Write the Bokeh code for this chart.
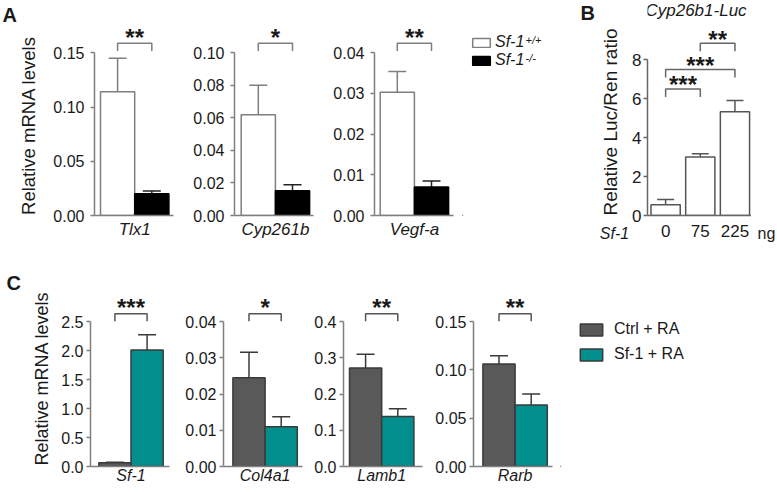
import math
from bokeh.plotting import figure
from bokeh.models import (Range1d, FixedTicker, Whisker, TeeHead, ColumnDataSource,
                          Legend, LegendItem, NumeralTickFormatter)
from bokeh.layouts import row, column
from bokeh.embed import file_html
from bokeh.resources import INLINE
from bokeh.core.properties import value

FONT = "Liberation Sans"

# ---------------- data ----------------
# Panel A: relative mRNA levels, Sf-1+/+ vs Sf-1-/-
a_genes = ["Tlx1", "Cyp261b", "Vegf-a"]
a_wt = [0.114, 0.062, 0.0303]
a_wt_sem = [0.031, 0.018, 0.0051]
a_ko = [0.0200, 0.0152, 0.0070]
a_ko_sem = [0.0027, 0.0037, 0.0015]
a_sig = ["**", "*", "**"]
a_ticks = [[0.0, 0.05, 0.10, 0.15],
           [0.0, 0.02, 0.04, 0.06, 0.08, 0.10],
           [0.0, 0.01, 0.02, 0.03, 0.04]]
a_fmt = ["0.00", "0.00", "0.00"]
a_legend = ["Sf-1", "Sf-1"]
a_legend_sup = ["+/+", "-/-"]

# Panel B: Cyp26b1-Luc reporter
b_title = "Cyp26b1-Luc"
b_doses = ["0", "75", "225"]
b_ratio = [0.55, 3.00, 5.33]
b_sem = [0.27, 0.17, 0.58]
b_ticks = [0, 2, 4, 6, 8]
b_pairs = [(0, 1), (0, 2), (1, 2)]
b_sig = ["***", "***", "**"]
b_bracket_y = [6.5, 7.5, 8.85]

# Panel C: Ctrl + RA vs Sf-1 + RA
c_genes = ["Sf-1", "Col4a1", "Lamb1", "Rarb"]
c_ctrl = [0.065, 0.0245, 0.272, 0.106]
c_ctrl_sem = [0.008, 0.0070, 0.038, 0.0085]
c_sf1 = [2.01, 0.0110, 0.138, 0.0635]
c_sf1_sem = [0.26, 0.0027, 0.021, 0.0115]
c_sig = ["***", "*", "**", "**"]
c_ticks = [[0.0, 0.5, 1.0, 1.5, 2.0, 2.5],
           [0.0, 0.01, 0.02, 0.03, 0.04],
           [0.0, 0.1, 0.2, 0.3, 0.4],
           [0.0, 0.05, 0.10, 0.15]]
c_fmt = ["0.0", "0.00", "0.0", "0.00"]
c_legend = ["Ctrl + RA", "Sf-1 + RA"]

# ---------------- styles / layout ----------------
AX = "#7f7f7f"
TXT = "#1a1a1a"
A_FILL = ["white", "black"]
A_LINE = ["#7f7f7f", "black"]
A_ERR = ["#7f7f7f", "#222222"]
C_FILL = ["#595959", "#008f8c"]
C_LINE = ["#3a3a3a", "#3a3a3a"]
C_ERR = ["#3a3a3a", "#3a3a3a"]
TOP_H, TOP_BB = 244, 29          # all frames of the top row: canvas y 0..215
BOT_H, BOT_BB = 246, 24          # all frames of the bottom row: canvas y 0..222
TOP_FB = TOP_H - TOP_BB
BOT_FB = BOT_H - BOT_BB


def base_fig(w, h, bl, br, bt, bb, xr, yr, xaxis=True, yaxis=True):
    kw = {}
    if not xaxis:
        kw["x_axis_type"] = None
    if not yaxis:
        kw["y_axis_type"] = None
    p = figure(width=w, height=h, x_range=xr, y_range=yr, toolbar_location=None,
               title=None, output_backend="svg", min_border_left=bl, min_border_right=br,
               min_border_top=bt, min_border_bottom=bb, **kw)
    p.outline_line_color = None
    p.grid.visible = False
    p.background_fill_color = "white"
    p.border_fill_color = "white"
    return p


def strip(w, h, bb, xlabel=None, xlabel_at=0.0, xlabel_style="normal", standoff=9):
    """A figure used only to hold free text; an optional bare x axis carries one label."""
    p = base_fig(w, h, 0, 0, 0, bb, Range1d(0, w), Range1d(0, h - bb),
                 xaxis=xlabel is not None, yaxis=False)
    if xlabel is not None:
        xa = p.xaxis[0]
        xa.ticker = FixedTicker(ticks=[xlabel_at])
        xa.major_label_overrides = {xlabel_at: xlabel}
        xa.axis_line_color = None
        xa.major_tick_line_color = None
        xa.minor_tick_line_color = None
        xa.major_tick_out = 0
        xa.major_tick_in = 0
        xa.major_label_standoff = standoff
        xa.major_label_text_font = FONT
        xa.major_label_text_font_size = "16px"
        xa.major_label_text_font_style = xlabel_style
        xa.major_label_text_color = TXT
    return p


def put_text(p, fb, x, cy, text, size, style="normal", align="left", baseline="top",
             angle=0.0):
    p.text(x=[x], y=[fb - cy], text=[text], text_align=align, text_baseline=baseline,
           angle=angle, text_font=value(FONT), text_font_size=size,
           text_font_style=style, text_color=TXT)


def style_axes(p, ticks, fmt, top_tick, ax_color, standoff, lab_size="16px"):
    ya = p.yaxis[0]
    ya.ticker = FixedTicker(ticks=ticks)
    ya.formatter = NumeralTickFormatter(format=fmt)
    ya.bounds = (0, top_tick)
    ya.axis_line_color = ax_color
    ya.axis_line_width = 1.5
    ya.major_tick_line_color = ax_color
    ya.major_tick_line_width = 1.5
    ya.major_tick_out = 4
    ya.major_tick_in = 0
    ya.minor_tick_line_color = None
    ya.major_label_standoff = standoff
    ya.major_label_text_font = FONT
    ya.major_label_text_font_size = lab_size
    ya.major_label_text_color = TXT
    xa = p.xaxis[0]
    xa.axis_line_color = ax_color
    xa.axis_line_width = 1.5
    xa.minor_tick_line_color = None
    xa.major_tick_line_color = None
    xa.major_tick_out = 0
    xa.major_tick_in = 0
    xa.major_label_text_font = FONT
    xa.major_label_text_color = TXT


def pair_panel(w, h, bl, br, bb, frame_w, frame_h, top_px, bar_px, gap_px,
               ticks, fmt, vals, sems, fills, lines, errs, sig, label, br_color,
               standoff, cat_size, cat_standoff, bracket_px, drop_px):
    top_tick = ticks[-1]
    y_end = top_tick * frame_h / top_px
    x0 = -0.5 - gap_px / bar_px
    x1 = x0 + frame_w / bar_px
    p = base_fig(w, h, bl, br, 0, bb, Range1d(x0, x1), Range1d(0, y_end))
    style_axes(p, ticks, fmt, top_tick, AX, standoff)
    p.xaxis.ticker = FixedTicker(ticks=[0.5])
    p.xaxis.major_label_overrides = {0.5: label}
    p.xaxis.major_label_text_font_style = "italic"
    p.xaxis.major_label_text_font_size = cat_size
    p.xaxis.major_label_standoff = cat_standoff
    for k in range(2):
        p.vbar(x=[k], top=[vals[k]], width=1.0, bottom=0,
               fill_color=fills[k], line_color=lines[k], line_width=1.5)
        src = ColumnDataSource(dict(x=[k], lower=[vals[k]], upper=[vals[k] + sems[k]]))
        p.add_layout(Whisker(source=src, base="x", lower="lower", upper="upper",
                             line_color=errs[k], line_width=1.5, lower_head=None,
                             upper_head=TeeHead(size=18, line_color=errs[k], line_width=1.5)))
    dpx = y_end / frame_h
    yb = top_tick + bracket_px * dpx
    p.multi_line(xs=[[0, 0, 1, 1]], ys=[[yb - drop_px * dpx, yb, yb, yb - drop_px * dpx]],
                 line_color=br_color, line_width=1.5)
    p.text(x=[0.5], y=[yb + 6 * dpx], text=[sig], text_align="center",
           text_baseline="alphabetic", text_font=value(FONT), text_font_style="bold",
           text_font_size="24px", text_color=TXT)
    return p


def legend_fig(w, h, bb, loc, fills, lines, labels, **legend_kw):
    """Figure that only carries a legend; its swatch renderers sit outside the view."""
    p = base_fig(w, h, 0, 0, 0, bb, Range1d(0, w), Range1d(0, h - bb),
                 xaxis=False, yaxis=False)
    rs = []
    for k in range(len(labels)):
        rs.append(p.vbar(x=[-10 * w], top=[-10 * h], bottom=[-10 * h - 1], width=1.0,
                         fill_color=fills[k], line_color=lines[k], line_width=1.5))
    leg = Legend(items=[LegendItem(label=labels[k], renderers=[rs[k]])
                        for k in range(len(labels))],
                 location=loc, orientation="vertical", padding=0, margin=0,
                 border_line_color=None, background_fill_alpha=0,
                 label_text_font=FONT, label_text_color=TXT, **legend_kw)
    p.add_layout(leg)
    return p


# ---------------- panel A ----------------
sA = strip(48, TOP_H, TOP_BB)
put_text(sA, TOP_FB, 2, 3, "A", "20px", style="bold")
put_text(sA, TOP_FB, 28, 125, "Relative mRNA levels", "18.5px", align="center",
         baseline="middle", angle=math.pi / 2)

A_geo = [  # (width, border_left, border_right, gap_px)
    (142, 46, 17, 6.0),
    (140, 44, 17, 6.7),
    (132, 44, 9, 5.7),
]
a_figs = []
for i in range(3):
    w, bl, br, gap = A_geo[i]
    a_figs.append(pair_panel(w, TOP_H, bl, br, TOP_BB, 79, TOP_FB, TOP_FB - 52.3, 34.2, gap,
                             a_ticks[i], a_fmt[i], [a_wt[i], a_ko[i]],
                             [a_wt_sem[i], a_ko_sem[i]], A_FILL, A_LINE, A_ERR, a_sig[i],
                             a_genes[i], AX, 6, "17px", 4, 9.6, 7.8))

legA_fig = legend_fig(113, TOP_H, TOP_BB, (8, 146), A_FILL, A_LINE, a_legend,
                      glyph_width=22, glyph_height=11, label_standoff=3,
                      label_text_font_size="16px", label_text_font_style="italic",
                      label_height=11, spacing=0)
put_text(legA_fig, TOP_FB, 63, 33, a_legend_sup[0], "11px", style="italic")
put_text(legA_fig, TOP_FB, 63, 51.5, a_legend_sup[1], "11px", style="italic")

# ---------------- panel B ----------------
sB = strip(54, TOP_H, TOP_BB, xlabel="Sf-1", xlabel_at=39.0, xlabel_style="italic")
put_text(sB, TOP_FB, 5, 1, "B", "20px", style="bold")
put_text(sB, TOP_FB, 35, 121.5, "Relative Luc/Ren ratio", "19px", align="center",
         baseline="middle", angle=math.pi / 2)

b_frame_w, b_unit = 105, 35.0
b_top_px = TOP_FB - 59.3
b_y_end = b_ticks[-1] * TOP_FB / b_top_px
b_x0 = -18.3 / b_unit
pB = base_fig(122, TOP_H, 17, 0, 0, TOP_BB,
              Range1d(b_x0, b_x0 + b_frame_w / b_unit), Range1d(0, b_y_end))
style_axes(pB, b_ticks, "0", b_ticks[-1], "#666666", 2, "17px")
b_idx = list(range(len(b_doses)))
pB.vbar(x=b_idx, top=b_ratio, width=29.5 / b_unit, bottom=0, fill_color="white",
        line_color="#555555", line_width=1.5)
b_src = ColumnDataSource(dict(x=b_idx, lower=b_ratio,
                              upper=[v + s for v, s in zip(b_ratio, b_sem)]))
pB.add_layout(Whisker(source=b_src, base="x", lower="lower", upper="upper",
                      line_color="#555555", line_width=1.5, lower_head=None,
                      upper_head=TeeHead(size=17, line_color="#555555", line_width=1.5)))
pB.xaxis.ticker = FixedTicker(ticks=b_idx)
pB.xaxis.major_label_overrides = {i: b_doses[i] for i in b_idx}
pB.xaxis.major_label_standoff = 9
pB.xaxis.major_label_text_font_size = "17px"
bdpx = b_y_end / TOP_FB
for (i, j), s, yb in zip(b_pairs, b_sig, b_bracket_y):
    pB.multi_line(xs=[[i, i, j, j]], ys=[[yb - 8 * bdpx, yb, yb, yb - 8 * bdpx]],
                  line_color="#666666", line_width=1.5)
    pB.text(x=[(i + j) / 2], y=[yb + 4 * bdpx], text=[s], text_align="center",
            text_baseline="alphabetic", text_font=value(FONT), text_font_style="bold",
            text_font_size="24px", text_color=TXT)
pB.text(x=[b_x0 + 49.0 / b_unit], y=[b_y_end], text=[b_title], text_align="center",
        text_baseline="top", text_font=value(FONT), text_font_style="italic",
        text_font_size="17px", text_color=TXT)

sNG = strip(25, TOP_H, TOP_BB, xlabel="ng", xlabel_at=15.0)

# ---------------- panel C ----------------
sC = strip(56, BOT_H, BOT_BB)
put_text(sC, BOT_FB, 6, 27, "C", "20px", style="bold")
put_text(sC, BOT_FB, 41, 134, "Relative mRNA levels", "18px", align="center",
         baseline="middle", angle=math.pi / 2)

C_geo = [  # (width, border_left, border_right, gap_px)
    (125, 34, 12, 8.3),
    (125, 42, 4, 9.4),
    (126, 37, 10, 6.0),
    (128, 41, 8, 9.4),
]
c_figs = []
for i in range(4):
    w, bl, br, gap = C_geo[i]
    c_figs.append(pair_panel(w, BOT_H, bl, br, BOT_BB, 79, BOT_FB, 145.0, 32.2, gap,
                             c_ticks[i], c_fmt[i], [c_ctrl[i], c_sf1[i]],
                             [c_ctrl_sem[i], c_sf1_sem[i]], C_FILL, C_LINE, C_ERR, c_sig[i],
                             c_genes[i], "#555555", 3, "16px", 0, 7.7, 7.4))

legC_fig = legend_fig(216, BOT_H, BOT_BB, (17, 103), C_FILL, C_LINE, c_legend,
                      glyph_width=28, glyph_height=15, label_standoff=9,
                      label_text_font_size="16px", label_height=15, spacing=7)

layout = column(row(sA, *a_figs, legA_fig, sB, pB, sNG),
                row(sC, *c_figs, legC_fig))
open("out.html", "w").write(file_html(layout, INLINE))
